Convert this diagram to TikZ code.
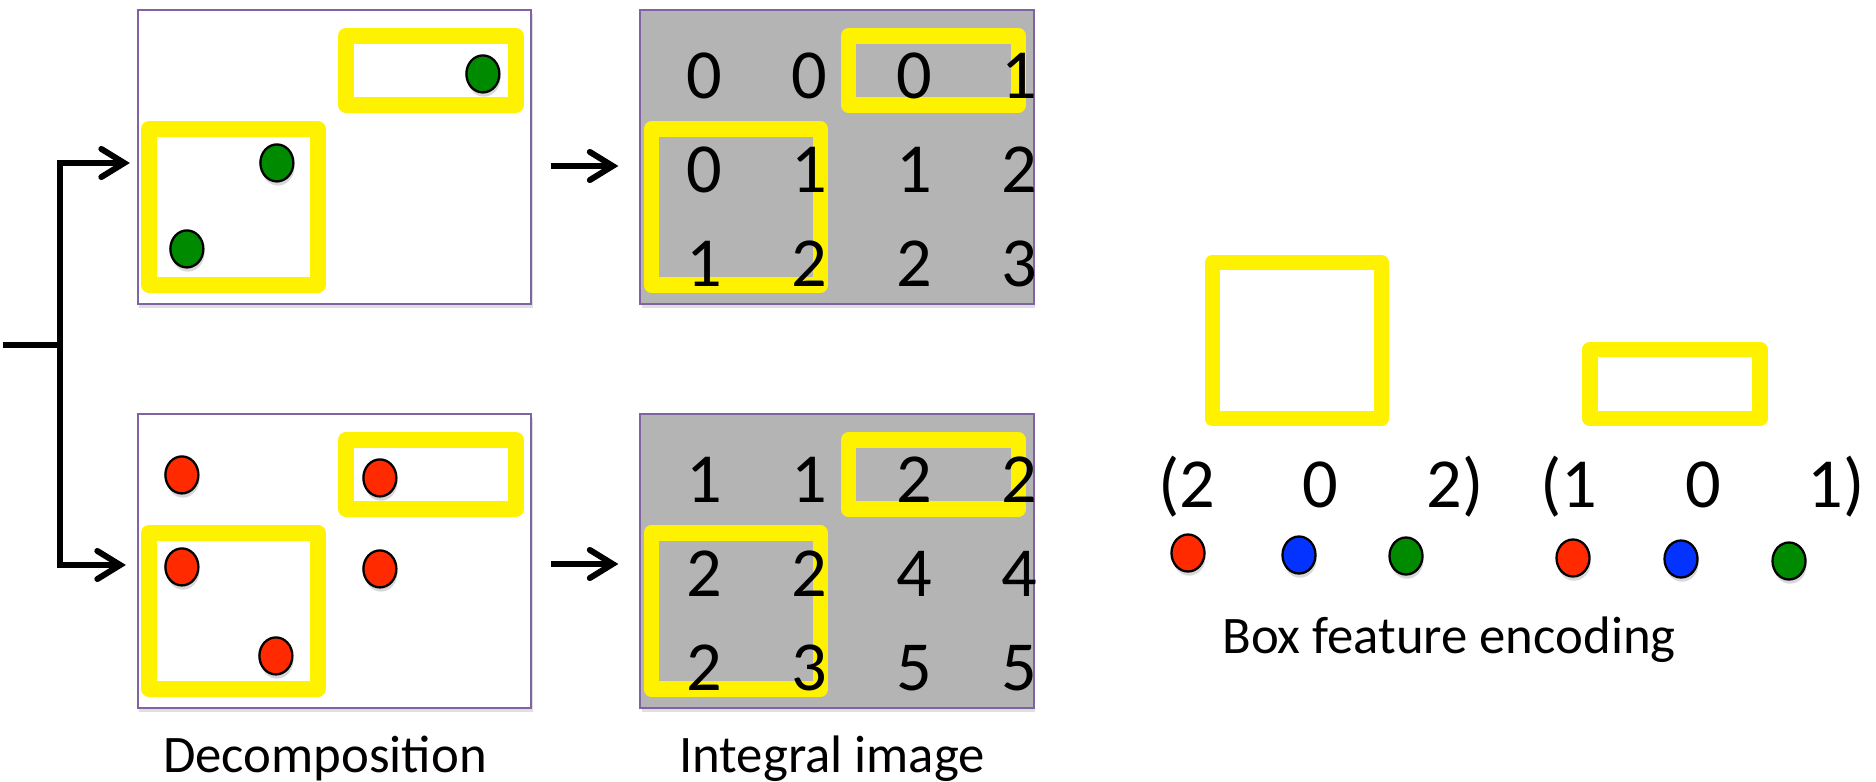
\documentclass[tikz,border=0pt]{standalone}
\usepackage{fontspec}
\setmainfont{Carlito}
\usepackage{tikz}
\usetikzlibrary{arrows.meta}
\usetikzlibrary{positioning}
\usetikzlibrary{calc}
\usetikzlibrary{shapes.geometric}
\usetikzlibrary{shadows}
\definecolor{dotred}{RGB}{255,42,0}
\definecolor{dotblue}{RGB}{4,51,255}
\definecolor{dotgreen}{RGB}{0,138,0}
\definecolor{framecol}{RGB}{128,100,162}
\definecolor{sumgray}{RGB}{180,180,180}
\newcommand{\numcell}[2]{\node(#1)[digit]{#2}}
\newcommand{\dotat}[3]{\node(#1)[dot,fill=#2] at #3 {}}
\newcommand{\featpair}[1]{%
  \node(#1big)[featbox,bigbox] at ($(#1.north west)+(95.5,197)$) {};
  \node(#1wide)[featbox,widebox] at ($(#1.north west)+(293,60.5)$) {}}

\begin{document}
\begin{tikzpicture}[
        x=0.01cm, y=-0.01cm,
        every node/.style={font=\fontsize{15}{18}\selectfont},
        panel/.style={rectangle,draw=framecol,line width=0.6pt,
                      minimum width=3.93cm,minimum height=2.94cm,outer sep=0pt,
                      drop shadow={opacity=0.25,shadow xshift=0.4pt,shadow yshift=-1.2pt}},
        featbox/.style={rectangle,draw=yellow,line width=4.4pt,line join=round,
                        inner sep=0pt,outer sep=0pt},
        bigbox/.style={minimum width=1.69cm,minimum height=1.56cm},
        widebox/.style={minimum width=1.70cm,minimum height=0.69cm},
        dot/.style={ellipse,draw=black,line width=0.65pt,inner sep=0pt,
                    minimum width=0.33cm,minimum height=0.37cm,
                    drop shadow={opacity=0.3,shadow xshift=0.3pt,shadow yshift=-1.2pt}},
        digit/.style={font=\fontsize{20}{24}\selectfont,inner sep=0pt,
                      minimum width=1.05cm,minimum height=0.94cm,
                      text height=0.45cm,text depth=0cm},
        vec/.style={font=\fontsize{20}{24}\selectfont,anchor=base,inner sep=0pt},
        caption/.style={anchor=base,inner sep=0pt},
        wire/.style={line width=1.7pt},
        arrow/.style={line width=1.7pt,
                      -{Straight Barb[length=6.5pt,width=8pt,line cap=round]}}
      ]
      \useasboundingbox (0,0) rectangle (1876,782);

      % panels
      \node(dec1)[panel,fill=white] at (334.5,157) {};
      \node(dec2)[panel,fill=white] at (334.5,561) {};
      \node(int1)[panel,fill=sumgray] at (837,157) {};
      \node(int2)[panel,fill=sumgray] at (837,561) {};

      \featpair{dec1};
      \featpair{dec2};
      \featpair{int1};
      \featpair{int2};

      % points
      \dotat{g1}{dotgreen}{($(dec1.north west)+(345,64)$)};
      \dotat{g2}{dotgreen}{($(dec1.north west)+(139,153)$)};
      \dotat{g3}{dotgreen}{($(dec1.north west)+(49,239)$)};
      \dotat{r1}{dotred}{($(dec2.north west)+(44,61)$)};
      \dotat{r2}{dotred}{($(dec2.north west)+(242,64)$)};
      \dotat{r3}{dotred}{($(dec2.north west)+(44,153)$)};
      \dotat{r4}{dotred}{($(dec2.north west)+(242,155)$)};
      \dotat{r5}{dotred}{($(dec2.north west)+(138,242)$)};

      % integral images
      \matrix (sum1) [row sep=0mm, column sep=0mm] at ($(int1.center)+(24.5,13)$) {
        \numcell{a11}{0}; & \numcell{a12}{0}; & \numcell{a13}{0}; & \numcell{a14}{1}; \\
        \numcell{a21}{0}; & \numcell{a22}{1}; & \numcell{a23}{1}; & \numcell{a24}{2}; \\
        \numcell{a31}{1}; & \numcell{a32}{2}; & \numcell{a33}{2}; & \numcell{a34}{3}; \\
      };
      \matrix (sum2) [row sep=0mm, column sep=0mm] at ($(int2.center)+(24.5,13)$) {
        \numcell{b11}{1}; & \numcell{b12}{1}; & \numcell{b13}{2}; & \numcell{b14}{2}; \\
        \numcell{b21}{2}; & \numcell{b22}{2}; & \numcell{b23}{4}; & \numcell{b24}{4}; \\
        \numcell{b31}{2}; & \numcell{b32}{3}; & \numcell{b33}{5}; & \numcell{b34}{5}; \\
      };

      % connectors
      \coordinate (src) at (3,345);
      \coordinate (fork) at (60,345);
      \draw[wire] (src) -- (fork);
      \draw[arrow,shorten >=0.08cm] (fork) |- ([yshift=-0.06cm]dec1.west);
      \draw[arrow,shorten >=0.12cm] (fork) |- ([yshift=-0.04cm]dec2.west);
      \draw[arrow,shorten <=0.2cm,shorten >=0.22cm] ([yshift=-0.09cm]dec1.east) -- ([yshift=-0.09cm]int1.west);
      \draw[arrow,shorten <=0.2cm,shorten >=0.22cm] ([yshift=-0.03cm]dec2.east) -- ([yshift=-0.03cm]int2.west);

      % box features
      \node(featA)[featbox,bigbox] at (1297,340.5) {};
      \node(featB)[featbox,widebox] at (1675,384) {};
      \node(vA1)[vec] at (1187,507) {(2};
      \node(vA2)[vec] at (1320,507) {0};
      \node(vA3)[vec] at (1455,507) {2)};
      \node(vB1)[vec] at (1569,507) {(1};
      \node(vB2)[vec] at (1703,507) {0};
      \node(vB3)[vec] at (1836,507) {1)};
      \dotat{cA1}{dotred}{(1188,553)};
      \dotat{cA2}{dotblue}{(1299,555)};
      \dotat{cA3}{dotgreen}{(1406,556)};
      \dotat{cB1}{dotred}{(1573,558)};
      \dotat{cB2}{dotblue}{(1681,559)};
      \dotat{cB3}{dotgreen}{(1789,561)};

      % captions
      \node(capdec)[caption] at (325,772) {Decomposition};
      \node(capint)[caption] at (832,772) {Integral image};
      \node(capenc)[caption] at (1449,653) {Box feature encoding};
\end{tikzpicture}
\end{document}
